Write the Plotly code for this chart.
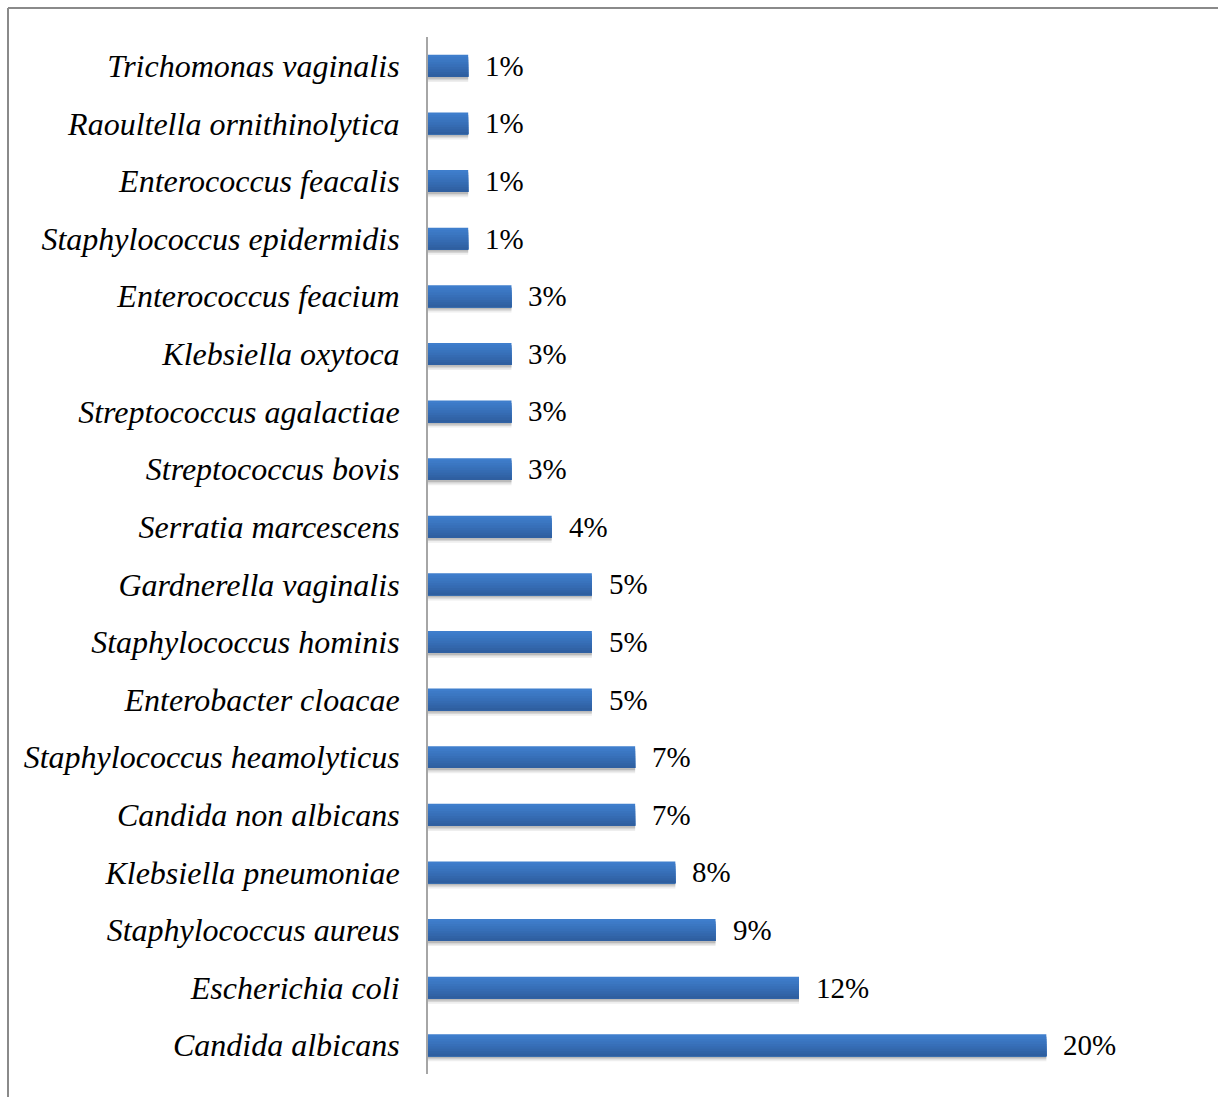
import plotly.graph_objects as go

# Organisms, listed top to bottom as drawn
organisms = [
    "Trichomonas vaginalis",
    "Raoultella ornithinolytica",
    "Enterococcus feacalis",
    "Staphylococcus epidermidis",
    "Enterococcus feacium",
    "Klebsiella oxytoca",
    "Streptococcus agalactiae",
    "Streptococcus bovis",
    "Serratia marcescens",
    "Gardnerella vaginalis",
    "Staphylococcus hominis",
    "Enterobacter cloacae",
    "Staphylococcus heamolyticus",
    "Candida non albicans",
    "Klebsiella pneumoniae",
    "Staphylococcus aureus",
    "Escherichia coli",
    "Candida albicans",
]
# Share of isolates (%)
share = [1.3, 1.3, 1.3, 1.3, 2.7, 2.7, 2.7, 2.7, 4.0, 5.3, 5.3, 5.3,
         6.7, 6.7, 8.0, 9.3, 12.0, 20.0]

W, H = 1218, 1097
L, R, T, B = 428, 48, 37, 23
XMAX = 24
plot_w = W - L - R
plot_h = H - T - B

BAR_W = 0.38
FONT = "Times New Roman, Liberation Serif, DejaVu Serif, serif"

fig = go.Figure()

# soft drop shadow under each bar
for dy, op in [(0.09, 0.10), (0.06, 0.16), (0.035, 0.22)]:
    fig.add_trace(go.Bar(
        x=share, y=organisms, orientation="h",
        width=BAR_W, offset=-BAR_W / 2 + dy,
        marker=dict(color=f"rgba(90,90,90,{op})", line=dict(width=0)),
        hoverinfo="skip", showlegend=False,
    ))

# bar body with a top-light / bottom-dark shading
shades = ["#3f7ecc", "#3d7ac7", "#3b77c2", "#3973bd", "#376fb8",
          "#356bb2", "#3367ac", "#3163a6", "#2f5fa0"]
n = len(shades)
for i, col in enumerate(shades):
    frac = 1 - i / n
    fig.add_trace(go.Bar(
        x=share, y=organisms, orientation="h",
        width=BAR_W * frac, offset=BAR_W / 2 - BAR_W * frac,
        marker=dict(color=col, line=dict(width=0)),
        hoverinfo="skip", showlegend=False,
    ))

# value labels to the right of each bar
for org, v in zip(organisms, share):
    fig.add_annotation(
        x=v, y=org, xref="x", yref="y",
        text=f"{v:.0f}%", showarrow=False,
        xanchor="left", yanchor="middle", xshift=15,
        font=dict(family=FONT, size=29, color="#000000"),
    )

# outer frame (left and top edges)
px = lambda p: (p - L) / plot_w
py = lambda p: (H - B - p) / plot_h
frame = dict(color="#8a8a8a", width=2)
fig.add_shape(type="line", xref="paper", yref="paper",
              x0=px(8), x1=px(8), y0=py(8), y1=py(H + 5), line=frame)
fig.add_shape(type="line", xref="paper", yref="paper",
              x0=px(8), x1=px(W + 5), y0=py(8), y1=py(8), line=frame)

fig.update_layout(
    width=W, height=H,
    margin=dict(l=L, r=R, t=T, b=B),
    paper_bgcolor="white", plot_bgcolor="white",
    font=dict(family=FONT),
    barmode="overlay",
    showlegend=False,
    xaxis=dict(range=[0, XMAX], visible=False, fixedrange=True),
    yaxis=dict(
        autorange="reversed", type="category",
        showline=True, linecolor="#a6a6a6", linewidth=2,
        showgrid=False, zeroline=False, ticks="",
        ticklabelstandoff=20,
        tickfont=dict(family=FONT, size=32, color="#000000",
                      style="italic"),
    ),
)

fig.write_html("out.html")
